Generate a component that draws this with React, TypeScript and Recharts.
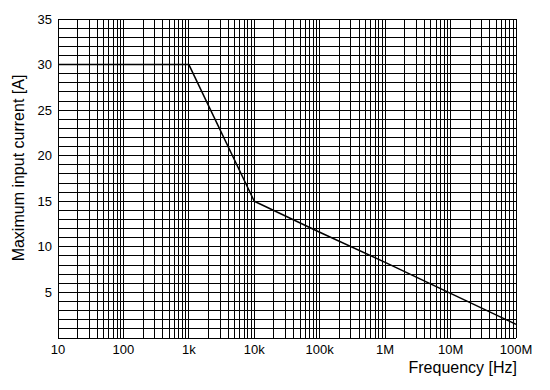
import { LineChart, Line, XAxis, YAxis, ReferenceLine } from "recharts";

const freq = [10, 1000, 10000, 100000, 1000000, 10000000, 100000000];
const current = [30, 30, 15, 11.6, 8.3, 4.9, 1.5];

const xTicks = [10, 100, 1000, 10000, 100000, 1000000, 10000000, 100000000];
const xTickLabels = ["10", "100", "1k", "10k", "100k", "1M", "10M", "100M"];
const yTicks = [5, 10, 15, 20, 25, 30, 35];

const data = freq.map((f, i) => ({ f, a: current[i] }));

// minor grid: 1..9 in every decade, and every 1 A
const xGrid: number[] = [];
for (let d = 10; d < 100000000; d *= 10) {
  for (let m = 1; m <= 9; m++) xGrid.push(d * m);
}
xGrid.push(100000000);
const yGrid: number[] = [];
for (let v = 1; v <= 35; v++) yGrid.push(v);

const font = "'Liberation Sans', Arial, sans-serif";

export default function App() {
  return (
    <div style={{ position: "absolute", left: 0, top: 0, background: "#fff" }}>
      <LineChart width={550} height={390} data={data} margin={{ top: 19, right: 34, bottom: 0, left: 0 }}>
        <XAxis
          dataKey="f"
          type="number"
          scale="log"
          domain={[10, 100000000]}
          ticks={xTicks}
          tickFormatter={(v: number) => xTickLabels[xTicks.indexOf(v)] ?? ""}
          height={52}
          tickLine={false}
          tickSize={4}
          tickMargin={3}
          axisLine={{ stroke: "#000", shapeRendering: "crispEdges" }}
          tick={{ fill: "#000", fontSize: 13, fontFamily: font }}
          allowDataOverflow
          label={{
            content: () => (
              <text x={517} y={373} textAnchor="end" fontSize={16} fontFamily={font} fill="#000">
                Frequency [Hz]
              </text>
            ),
          }}
        />
        <YAxis
          type="number"
          domain={[0, 35]}
          ticks={yTicks}
          width={58}
          tickLine={false}
          tickSize={4}
          tickMargin={2}
          axisLine={{ stroke: "#000", shapeRendering: "crispEdges" }}
          tick={{ fill: "#000", fontSize: 13, fontFamily: font }}
          label={{
            content: () => (
              <text
                x={0}
                y={0}
                transform="translate(24,168) rotate(-90)"
                textAnchor="middle"
                fontSize={16}
                fontFamily={font}
                fill="#000"
              >
                Maximum input current [A]
              </text>
            ),
          }}
        />
        {xGrid.map((v) => (
          <ReferenceLine key={"x" + v} x={v} stroke="#000" strokeWidth={1} shapeRendering="crispEdges" />
        ))}
        {yGrid.map((v) => (
          <ReferenceLine key={"y" + v} y={v} stroke="#000" strokeWidth={1} shapeRendering="crispEdges" />
        ))}
        <Line
          type="linear"
          dataKey="a"
          stroke="#000"
          strokeWidth={1.5}
          dot={false}
          isAnimationActive={false}
        />
      </LineChart>
    </div>
  );
}
